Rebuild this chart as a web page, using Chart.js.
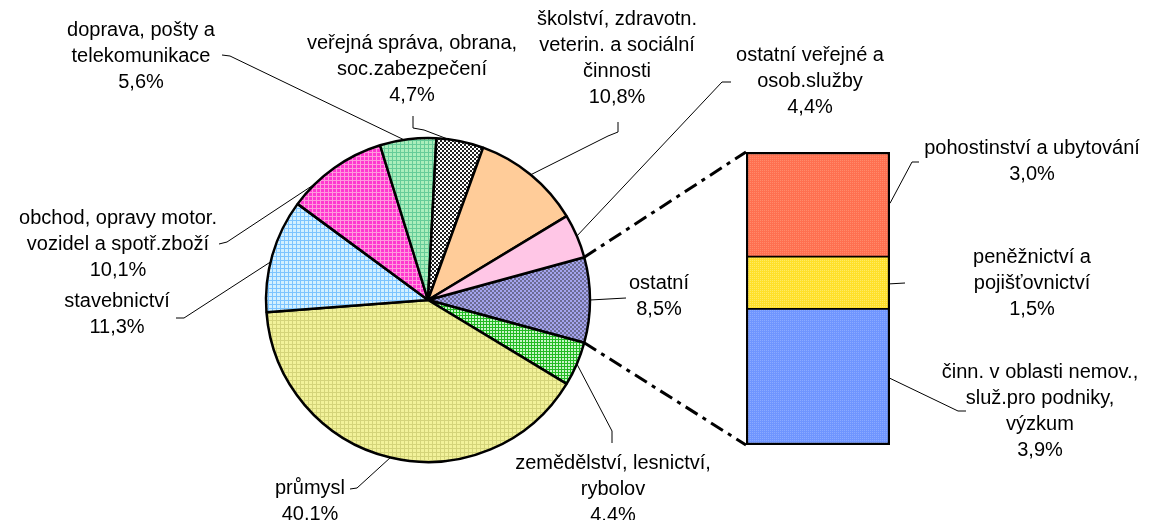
<!DOCTYPE html>
<html>
<head>
<meta charset="utf-8">
<script src="https://cdn.jsdelivr.net/npm/chart.js@4.4.0/dist/chart.umd.min.js"></script>
<style>
  html, body { margin: 0; padding: 0; background: #fff; }
  #wrap { position: relative; width: 1173px; height: 520px; }
  #wrap canvas { position: absolute; left: 0; top: 0; }
</style>
</head>
<body>
<div id="wrap">
  <canvas id="pie" width="1173" height="520"></canvas>
  <canvas id="bar" width="1173" height="520"></canvas>
</div>
<script>
// main pie, clockwise starting with the aggregated slice
const pieCategories = [
  'ostatní',
  'zemědělství, lesnictví,\nrybolov',
  'průmysl',
  'stavebnictví',
  'obchod, opravy motor.\nvozidel a spotř.zboží',
  'doprava, pošty a\ntelekomunikace',
  'veřejná správa, obrana,\nsoc.zabezpečení',
  'školství, zdravotn.\nveterin. a sociální\nčinnosti',
  'ostatní veřejné a\nosob.služby'
];
const pieValues = [8.5, 4.4, 40.1, 11.3, 10.1, 5.6, 4.7, 10.8, 4.4];

// breakdown of "ostatní", bottom to top
const barCategories = [
  'činn. v oblasti nemov.,\nsluž.pro podniky,\nvýzkum',
  'peněžnictví a\npojišťovnictví',
  'pohostinství a ubytování'
];
const barValues = [3.9, 1.5, 3.0];

const FONT = '20px "Liberation Sans", Arial, sans-serif';
const LINE_H = 26;

const pct = v => v.toFixed(1).replace('.', ',') + '%';

// label placement: centre x, y of first line, leader polyline (label side first)
const pieLabelPos = [
  { cx: 659, y: 283, lead: [[626, 298]], frac: 0.5 },
  { cx: 613, y: 463, lead: [[612, 443], [612, 431]], frac: 0.5 },
  { cx: 310, y: 488, lead: [[350, 489], [357, 488]], frac: 0.5 },
  { cx: 117, y: 301, lead: [[176, 318], [184, 318]], frac: 0.44 },
  { cx: 118, y: 218, lead: [[219, 244], [227, 242]], frac: 0.26 },
  { cx: 141, y: 30, lead: [[222, 55], [230, 56]], frac: 0.43 },
  { cx: 412, y: 43, lead: [[413, 116], [413, 128], [424, 130]], frac: 0.25 },
  { cx: 617, y: 19, lead: [[618, 122], [618, 132], [608, 136]], frac: 0.5 },
  { cx: 810, y: 55, lead: [[731, 82], [722, 82]], frac: 0.5 }
];
const barLabelPos = [
  { cx: 1040, y: 372, lead: [[966, 411], [958, 411]], frac: 0.51 },
  { cx: 1032, y: 257, lead: [[905, 283]], frac: 0.52 },
  { cx: 1032, y: 148, lead: [[919, 162], [912, 162]], frac: 0.49 }
];

const pieCanvas = document.getElementById('pie');
const pctx = pieCanvas.getContext('2d');

function pattern(size, bg, fg, cells) {
  const c = document.createElement('canvas');
  c.width = c.height = size;
  const g = c.getContext('2d');
  g.fillStyle = bg;
  g.fillRect(0, 0, size, size);
  g.fillStyle = fg;
  cells.forEach(([x, y, w, h]) => g.fillRect(x, y, w, h));
  return pctx.createPattern(c, 'repeat');
}
const grid = n => [[0, 0, n, 1], [0, 0, 1, n]];
const checker = [[0, 0, 2, 2], [2, 2, 2, 2]];
const dots = [[0, 0, 1, 1]];

const pieColors = [
  pattern(4, '#a4a4ee', '#6c6c94', checker),
  pattern(3, '#c8f5c8', '#22bb22', grid(3)),
  pattern(4, '#f2f29a', '#d4d47a', grid(4)),
  pattern(4, '#d2f0ff', '#7cc4ff', grid(4)),
  pattern(4, '#ff38d0', '#ff99dd', grid(4)),
  pattern(4, '#aaeebb', '#66cc99', grid(4)),
  pattern(4, '#ffffff', '#222222', checker),
  '#ffcc99',
  '#ffc6e6'
];
const barColors = [
  pattern(2, '#6f95ff', '#8aaaff', dots),
  pattern(2, '#ffe02a', '#ffea66', dots),
  pattern(2, '#ff7050', '#ff8a6a', dots)
];

function drawLabel(ctx, text, value, pos) {
  const lines = text.split('\n').concat([pct(value)]);
  ctx.fillStyle = '#000';
  ctx.font = FONT;
  ctx.textAlign = 'center';
  ctx.textBaseline = 'middle';
  lines.forEach((l, i) => ctx.fillText(l, pos.cx, pos.y + i * LINE_H));
}
function drawLeader(ctx, pts) {
  ctx.strokeStyle = '#000';
  ctx.lineWidth = 1;
  ctx.setLineDash([]);
  ctx.beginPath();
  pts.forEach((p, i) => i ? ctx.lineTo(p[0], p[1]) : ctx.moveTo(p[0], p[1]));
  ctx.stroke();
}

const pieTotal = pieValues.reduce((a, b) => a + b, 0);

const pieChart = new Chart(pieCanvas, {
  type: 'pie',
  data: {
    labels: pieCategories,
    datasets: [{
      data: pieValues,
      backgroundColor: pieColors,
      borderColor: '#000',
      borderWidth: 2.5
    }]
  },
  options: {
    responsive: false,
    animation: false,
    rotation: 90 - (pieValues[0] / pieTotal * 360) / 2,
    radius: 162,
    layout: { padding: { left: 0, right: 317, top: 80, bottom: 0 } },
    plugins: { legend: { display: false }, tooltip: { enabled: false } }
  },
  plugins: [{
    id: 'pieLabels',
    afterDraw(chart) {
      const ctx = chart.ctx;
      const arcs = chart.getDatasetMeta(0).data;
      ctx.save();
      pieLabelPos.forEach((pos, i) => {
        const a = arcs[i];
        const ang = a.startAngle + pos.frac * (a.endAngle - a.startAngle);
        const rim = [a.x + Math.cos(ang) * a.outerRadius, a.y + Math.sin(ang) * a.outerRadius];
        drawLeader(ctx, pos.lead.concat([rim]));
        drawLabel(ctx, pieCategories[i], pieValues[i], pos);
      });
      ctx.restore();
    }
  }]
});

const barTotal = barValues.reduce((a, b) => a + b, 0);
const barBorders = [
  { left: 2.5, right: 2.5, bottom: 2.5, top: 1.2 },
  { left: 2.5, right: 2.5, bottom: 1.2, top: 1.2 },
  { left: 2.5, right: 2.5, bottom: 1.2, top: 2.5 }
];

new Chart(document.getElementById('bar'), {
  type: 'bar',
  data: {
    labels: [''],
    datasets: barValues.map((v, i) => ({
      label: barCategories[i],
      data: [v],
      backgroundColor: barColors[i],
      borderColor: '#000',
      borderWidth: barBorders[i],
      borderSkipped: false,
      barPercentage: 1,
      categoryPercentage: 1
    }))
  },
  options: {
    responsive: false,
    animation: false,
    layout: { padding: { left: 746, right: 283, top: 152, bottom: 75 } },
    scales: {
      x: { stacked: true, display: false },
      y: { stacked: true, display: false, min: 0, max: barTotal }
    },
    plugins: { legend: { display: false }, tooltip: { enabled: false } }
  },
  plugins: [{
    id: 'barLabels',
    afterDraw(chart) {
      const ctx = chart.ctx;
      ctx.save();
      // dash-dot connectors from the "ostatní" slice to the bar
      const arc = pieChart.getDatasetMeta(0).data[0];
      const top = chart.getDatasetMeta(barValues.length - 1).data[0];
      const bottom = chart.getDatasetMeta(0).data[0];
      const left = top.x - top.width / 2;
      ctx.strokeStyle = '#000';
      ctx.lineWidth = 3;
      ctx.setLineDash([14, 6, 4, 6]);
      [[arc.startAngle, top.y], [arc.endAngle, bottom.base]].forEach(([ang, y]) => {
        ctx.beginPath();
        ctx.moveTo(arc.x + Math.cos(ang) * arc.outerRadius, arc.y + Math.sin(ang) * arc.outerRadius);
        ctx.lineTo(left, y);
        ctx.stroke();
      });
      barLabelPos.forEach((pos, i) => {
        const el = chart.getDatasetMeta(i).data[0];
        const right = el.x + el.width / 2;
        const y = el.y + pos.frac * (el.base - el.y);
        drawLeader(ctx, pos.lead.concat([[right, y]]));
        drawLabel(ctx, barCategories[i], barValues[i], pos);
      });
      ctx.restore();
    }
  }]
});
</script>
</body>
</html>
